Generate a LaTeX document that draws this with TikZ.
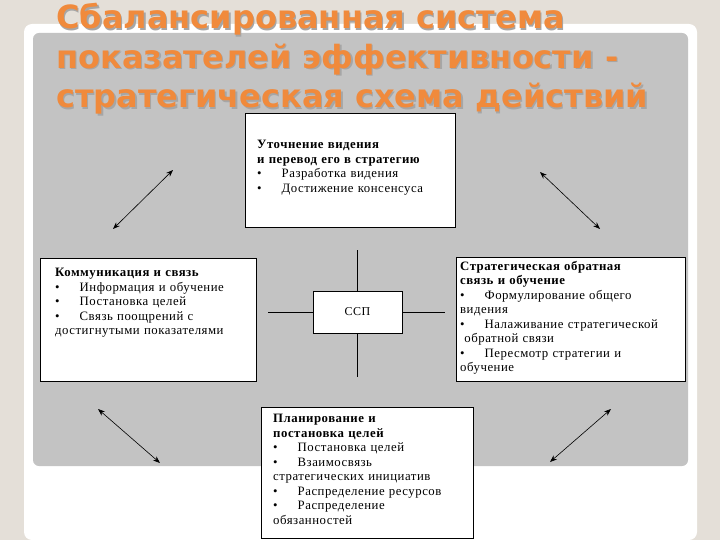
\documentclass[tikz,border=0pt]{standalone}
\usepackage{fontspec}
\setmainfont{Liberation Serif}[LetterSpace=4]
\newfontfamily\titlefont{DejaVu Sans}
\usetikzlibrary{arrows.meta}
\definecolor{bg}{HTML}{E4DFD8}
\definecolor{panel}{HTML}{C3C3C3}
\definecolor{ttl}{HTML}{F08A3C}
\newcommand{\bul}{•\hspace{20pt}}
\tikzset{
 box/.style={draw=black, line width=1pt, fill=white, inner sep=0pt},
 txt/.style={anchor=north west, align=left, inner sep=0pt, font=\fontsize{12.8}{14.5}\selectfont, text width=#1},
 dbl/.style={{Stealth[length=7pt]}-{Stealth[length=7pt]}, line width=0.6pt},
 ln/.style={line width=0.6pt}
}
\begin{document}
\begin{tikzpicture}[x=1pt,y=-1pt]
\useasboundingbox (0,0) rectangle (720,540);
\fill[bg] (0,0) rectangle (720,540);
\fill[white,rounded corners=8pt] (24,24) rectangle (697,540);
\fill[panel,rounded corners=6pt] (33,33) rectangle (688,466);
% title
\foreach \dx/\dy/\c in {1.5/1.5/gray!70, 0/0/ttl}{
\node[anchor=north west, text=\c, font=\titlefont\bfseries\fontsize{32}{39.5}\selectfont, align=left, inner sep=0pt] at (56+\dx,3+\dy)
{Сбалансированная система\\показателей эффективности -\\стратегическая схема действий};}
% boxes
\node[box, minimum width=210pt, minimum height=114pt, anchor=north west] (top) at (245,113) {};
\node[txt=205pt] at (257,140) {\textbf{Уточнение видения}\\\textbf{и перевод его в стратегию}\\\bul Разработка видения\\\bul Достижение консенсуса};
\node[box, minimum width=216pt, minimum height=123pt, anchor=north west] (left) at (40,258) {};
\node[txt=212pt] at (55,268) {\textbf{Коммуникация и связь}\\\bul Информация и обучение\\\bul Постановка целей\\\bul Связь поощрений с\\достигнутыми показателями};
\node[box, minimum width=229pt, minimum height=124pt, anchor=north west] (right) at (456,257) {};
\node[txt=226pt] at (460,261) {\textbf{Стратегическая обратная}\\\textbf{связь и обучение}\\\bul Формулирование общего\\видения\\\bul Налаживание стратегической\\\ обратной связи\\\bul Пересмотр стратегии и\\обучение};
\node[box, minimum width=212pt, minimum height=131pt, anchor=north west] (bot) at (261,407) {};
\node[txt=208pt] at (273,414) {\textbf{Планирование и}\\\textbf{постановка целей}\\\bul Постановка целей\\\bul Взаимосвязь\\стратегических инициатив\\\bul Распределение ресурсов\\\bul Распределение\\обязанностей};
\node[box, minimum width=89pt, minimum height=42pt, font=\fontsize{12}{13}\selectfont] (ssp) at (357.5,312) {ССП};
% cross
\coordinate (n) at (357.5,250); \coordinate (s) at (357.5,377);
\coordinate (w) at (268,312); \coordinate (e) at (445,312);
\draw[ln] (ssp.north) -- (n); \draw[ln] (ssp.south) -- (s);
\draw[ln] (ssp.west) -- (w); \draw[ln] (ssp.east) -- (e);
% diagonal arrows
\coordinate (a1) at (113,229); \coordinate (a2) at (173,170);
\coordinate (b1) at (540,172); \coordinate (b2) at (600,229);
\coordinate (c1) at (98,409); \coordinate (c2) at (160,463);
\coordinate (d1) at (550,462); \coordinate (d2) at (611,409);
\draw[dbl] (a1) -- (a2); \draw[dbl] (b1) -- (b2);
\draw[dbl] (c1) -- (c2); \draw[dbl] (d1) -- (d2);
\end{tikzpicture}
\end{document}
